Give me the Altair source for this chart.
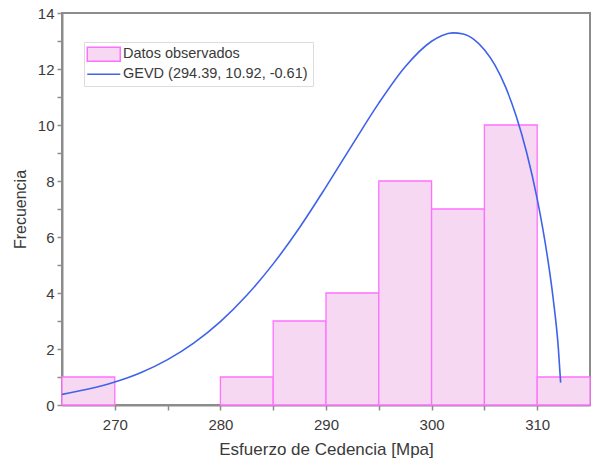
import altair as alt
import pandas as pd

# ---- data ----
bin_start = [265, 280, 285, 290, 295, 300, 305, 310]
bin_end = [270, 285, 290, 295, 300, 305, 310, 315]
counts = [1, 1, 3, 4, 8, 7, 10, 1]

curve_x = [265, 267.5, 270, 272.5, 275, 277.5, 280, 282.5, 285, 287.5, 290,
           292.5, 295, 297.5, 300, 301, 302, 303, 304, 305, 306, 307, 308,
           309, 310, 311, 311.5, 312, 312.22]
curve_y = [0.38, 0.57, 0.82, 1.16, 1.62, 2.22, 2.98, 3.92, 5.04, 6.34, 7.79,
           9.30, 10.78, 12.08, 12.99, 13.20, 13.29, 13.25, 13.06, 12.69, 12.14,
           11.36, 10.33, 9.02, 7.36, 5.21, 3.84, 2.04, 0.80]

bar_label = "Datos observados"
line_label = "GEVD (294.39, 10.92, -0.61)"
x_ticks = [270, 275, 280, 285, 290, 295, 300, 305, 310]
y_ticks = list(range(0, 15))
x_title = "Esfuerzo de Cedencia [Mpa]"
y_title = "Frecuencia"

# ---- styling ----
FONT = "Liberation Sans"
BAR_FILL = "#f6d8f3"
BAR_EDGE = "#ff70ff"
LINE = "#4062ea"
FRAME = "#8c8c8c"
TEXT = "#3a3a3a"

bars_df = pd.DataFrame({"x0": bin_start, "x1": bin_end, "n": counts, "series": bar_label})
line_df = pd.DataFrame({"x": curve_x, "y": curve_y, "series": line_label})

shape_expr = (f"datum.value === '{bar_label}' ? 'M-3.3,-1.4H3.3V1.4H-3.3Z' : 'M-3.3,0H3.3'")
legend = alt.Legend(
    orient="none", legendX=22, legendY=29, title=None,
    labelFont=FONT, labelFontSize=14.5, labelColor=TEXT, labelLimit=400,
    symbolSize=100, symbolOffset=7.5, labelOffset=12,
    symbolType=alt.ExprRef(shape_expr), symbolStrokeWidth=1.5,
    padding=5, rowPadding=1, strokeColor="#dcdcdc", fillColor="white",
)

stroke = alt.Stroke("series:N",
                    scale=alt.Scale(domain=[bar_label, line_label], range=[BAR_EDGE, LINE]),
                    legend=legend, title=None)

xs = alt.Scale(domain=[265, 315], nice=False, zero=False)
ys = alt.Scale(domain=[0, 14], nice=False, zero=True)

x_axis = alt.Axis(values=x_ticks, title=x_title, grid=False,
                  labelExpr="datum.value % 10 === 0 ? datum.label : ''",
                  tickSize=5, labelPadding=7, titlePadding=9,
                  labelFontSize=15, titleFontSize=17)
y_axis = alt.Axis(values=y_ticks, title=y_title, grid=False,
                  labelExpr="datum.value % 2 === 0 ? datum.label : ''",
                  tickSize=5, labelPadding=3, titlePadding=9,
                  labelFontSize=15, titleFontSize=16)

bars = alt.Chart(bars_df).mark_bar(fill=BAR_FILL, strokeWidth=1.3, opacity=1).encode(
    x=alt.X("x0:Q", scale=xs, axis=x_axis),
    x2="x1:Q",
    y=alt.Y("n:Q", scale=ys, axis=y_axis),
    y2=alt.datum(0),
    stroke=stroke,
)

line = alt.Chart(line_df).mark_line(strokeWidth=1.6, interpolate="monotone", clip=True).encode(
    x=alt.X("x:Q", scale=xs, axis=x_axis),
    y=alt.Y("y:Q", scale=ys, axis=y_axis),
    stroke=stroke,
)

chart = alt.layer(bars, line).properties(
    width=528, height=392,
    autosize=alt.AutoSizeParams(type="none"),
    padding={"left": 62, "top": 13, "right": 5, "bottom": 61},
    background="white",
).configure_view(
    stroke=FRAME, strokeWidth=2
).configure_axis(
    domainColor=FRAME, domainWidth=2, tickColor=FRAME, tickWidth=1.5,
    labelFont=FONT, titleFont=FONT, labelColor=TEXT, titleColor=TEXT,
    titleFontWeight="normal",
)

chart.save("out.html", embed_options={"renderer": "svg", "actions": False})
